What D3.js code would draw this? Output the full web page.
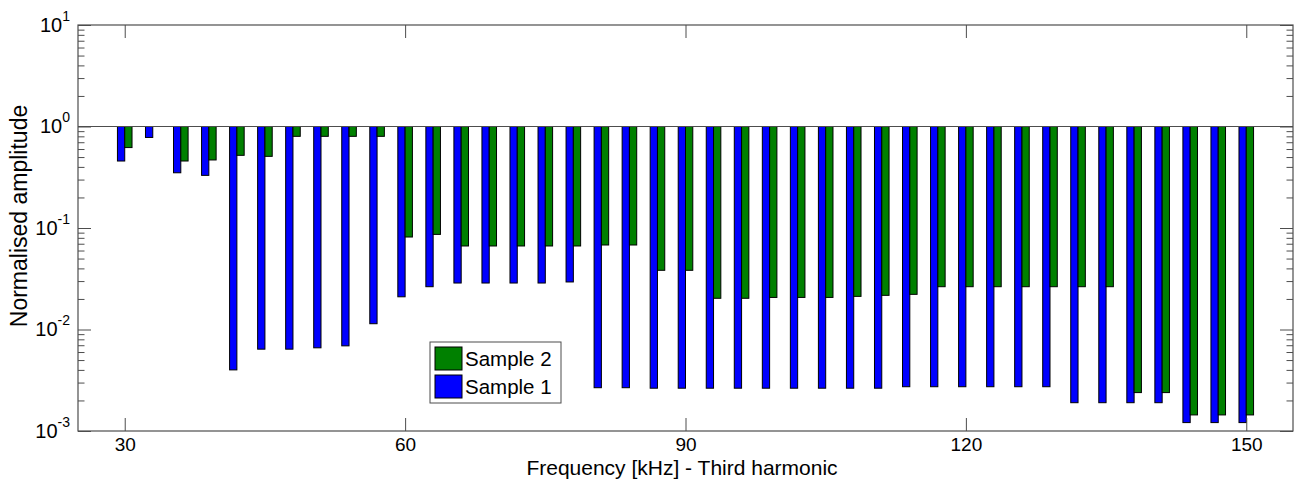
<!DOCTYPE html>
<html>
<head>
<meta charset="utf-8">
<script src="https://cdn.jsdelivr.net/npm/d3@7"></script>
<style>
  html, body { margin: 0; padding: 0; background: #fff; }
  svg { display: block; font-family: "Liberation Sans", Arial, Helvetica, sans-serif; }
</style>
</head>
<body>
<svg id="chart" width="1300" height="488"></svg>
<script>
// ---- data ----
const frequencies = [30,33,36,39,42,45,48,51,54,57,60,63,66,69,72,75,78,81,84,87,90,93,96,99,102,105,108,111,114,117,120,123,126,129,132,135,138,141,144,147,150];
const sample1 = [0.457,0.78,0.35,0.33,0.0040,0.0064,0.0064,0.0066,0.0069,0.0114,0.021,0.0264,0.0287,0.0287,0.0287,0.0287,0.0294,0.00267,0.00267,0.00264,0.00264,0.00264,0.00264,0.00264,0.00264,0.00264,0.00264,0.00264,0.00273,0.00273,0.00273,0.00273,0.00273,0.00273,0.0019,0.0019,0.0019,0.0019,0.00121,0.00121,0.00121];
const sample2 = [0.62,null,0.457,0.468,0.52,0.508,0.80,0.80,0.80,0.80,0.0815,0.0865,0.0665,0.0665,0.0665,0.0665,0.0665,0.068,0.068,0.0383,0.0383,0.0203,0.0203,0.0207,0.0207,0.0207,0.0212,0.0217,0.0222,0.0264,0.0264,0.0264,0.0264,0.0264,0.0264,0.0264,0.00239,0.00239,0.00144,0.00144,0.00144];
const seriesNames = ["Sample 1", "Sample 2"];
const seriesColors = ["#0000ff", "#008000"];
const xTicks = [30, 60, 90, 120, 150];
const yExponents = [1, 0, -1, -2, -3];
const xLabel = "Frequency [kHz] - Third harmonic";
const yLabel = "Normalised amplitude";

// ---- layout ----
const margin = {left: 78, right: 7, top: 25, bottom: 57};
const W = 1300, H = 488;
const svg = d3.select("#chart");
const x = d3.scaleLinear().domain([25, 155]).range([margin.left, W - margin.right]);
const y = d3.scaleLog().domain([1e-3, 1e1]).range([H - margin.bottom, margin.top]);
const axisColor = "#4d4d4d";
const barW = 0.78; // kHz

// bars
const series = [sample1, sample2];
series.forEach((vals, si) => {
  svg.append("g").selectAll("rect")
    .data(frequencies.map((f, i) => ({f, v: vals[i]})).filter(d => d.v != null))
    .join("rect")
    .attr("x", d => si === 0 ? x(d.f - barW) : x(d.f))
    .attr("width", d => x(d.f + barW) - x(d.f))
    .attr("y", y(1))
    .attr("height", d => y(d.v) - y(1))
    .attr("fill", seriesColors[si])
    .attr("stroke", "#000")
    .attr("stroke-width", 1);
});

// baseline at 1
svg.append("line")
  .attr("x1", x(25)).attr("x2", x(155))
  .attr("y1", y(1)).attr("y2", y(1))
  .attr("stroke", axisColor).attr("stroke-width", 1.2);

// axes box
const L = margin.left, R = W - margin.right, T = margin.top, B = H - margin.bottom;
svg.append("rect").attr("x", L).attr("y", T).attr("width", R - L).attr("height", B - T)
  .attr("fill", "none").attr("stroke", axisColor).attr("stroke-width", 1.2);

// x ticks (inside, bottom & top)
const xb = d3.axisBottom(x).tickValues(xTicks).tickSizeInner(-13).tickSizeOuter(0).tickPadding(7);
const gx = svg.append("g").attr("transform", `translate(0,${B})`).call(xb);
gx.select(".domain").remove();
gx.selectAll("line").attr("stroke", axisColor);
gx.selectAll("text").attr("font-size", 19).attr("fill", "#000")
  .attr("font-family", "'Liberation Sans', Arial, sans-serif");
const gxt = svg.append("g").attr("transform", `translate(0,${T})`)
  .call(d3.axisTop(x).tickValues(xTicks).tickSizeInner(-13).tickSizeOuter(0).tickFormat(""));
gxt.select(".domain").remove();
gxt.selectAll("line").attr("stroke", axisColor);

// y ticks: major & minor, left & right
const majors = yExponents.map(e => Math.pow(10, e));
const minors = [];
[-3, -2, -1, 0].forEach(e => { for (let k = 2; k <= 9; k++) minors.push(k * Math.pow(10, e)); });
function yTicks(axisFn, tx, vals, len) {
  const g = svg.append("g").attr("transform", `translate(${tx},0)`)
    .call(axisFn(y).tickValues(vals).tickSizeInner(-len).tickSizeOuter(0).tickFormat(""));
  g.select(".domain").remove();
  g.selectAll("line").attr("stroke", axisColor);
}
yTicks(d3.axisLeft, L, majors, 13);
yTicks(d3.axisLeft, L, minors, 6.5);
yTicks(d3.axisRight, R, majors, 13);
yTicks(d3.axisRight, R, minors, 6.5);

// y tick labels 10^e
const yl = svg.append("g");
yExponents.forEach(e => {
  const t = yl.append("text")
    .attr("x", 70).attr("y", y(Math.pow(10, e)) + 6.5)
    .attr("text-anchor", "end").attr("font-size", 20).attr("fill", "#000");
  t.append("tspan").text("10");
  t.append("tspan").attr("dy", -11).attr("font-size", 14).text(String(e));
});

// axis labels
svg.append("text").attr("x", 682).attr("y", 475)
  .attr("text-anchor", "middle").attr("font-size", 21).attr("fill", "#000").text(xLabel);
svg.append("text").attr("transform", `translate(27,216) rotate(-90)`)
  .attr("text-anchor", "middle").attr("font-size", 23).attr("fill", "#000").text(yLabel);

// legend (Sample 2 first, then Sample 1)
const lg = svg.append("g").attr("transform", "translate(430,342)");
lg.append("rect").attr("width", 131).attr("height", 61)
  .attr("fill", "#fff").attr("stroke", axisColor).attr("stroke-width", 1);
[1, 0].forEach((si, row) => {
  const gy = 5 + row * 28;
  lg.append("rect").attr("x", 5).attr("y", gy).attr("width", 27).attr("height", 23)
    .attr("fill", seriesColors[si]).attr("stroke", "#000").attr("stroke-width", 1);
  lg.append("text").attr("x", 35).attr("y", gy + 19)
    .attr("font-size", 20.5).attr("fill", "#000").text(seriesNames[si]);
});
</script>
</body>
</html>
